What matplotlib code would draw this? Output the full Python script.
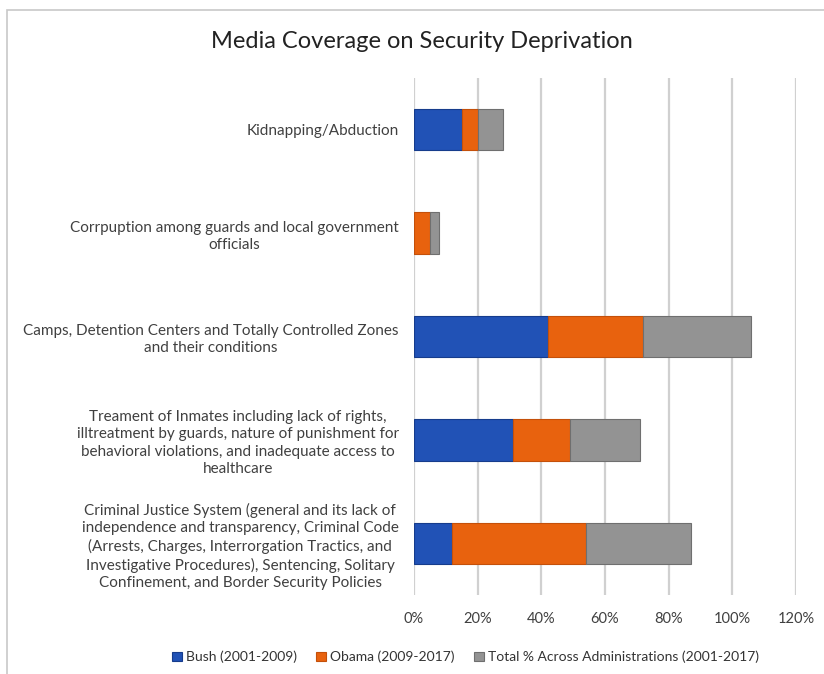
import matplotlib.pyplot as plt
import numpy as np
from matplotlib.patches import Rectangle
from matplotlib.ticker import PercentFormatter

plt.rcParams['font.family'] = ['Lato', 'DejaVu Sans']

categories = [
    "Kidnapping/Abduction",
    "Corrpuption among guards and local government\nofficials",
    "Camps, Detention Centers and Totally Controlled Zones\nand their conditions",
    "Treament of Inmates including lack of rights,\nilltreatment by guards, nature of punishment for\n"
    "behavioral violations, and inadequate access to\nhealthcare",
    "Criminal Justice System (general and its lack of\nindependence and transparency, Criminal Code\n"
    "(Arrests, Charges, Interrorgation Tractics, and\nInvestigative Procedures), Sentencing, Solitary\n"
    "Confinement, and Border Security Policies",
]
bush = [15, 0, 42, 31, 12]
obama = [5, 5, 30, 18, 42]
total = [8, 3, 34, 22, 33]
series_names = ["Bush (2001-2009)", "Obama (2009-2017)",
                "Total % Across Administrations (2001-2017)"]

colors = ["#2152b6", "#e8620e", "#939393"]
edges = ["#163c8c", "#c4500a", "#6f6f6f"]

fig = plt.figure(figsize=(8.24, 6.74), dpi=100)
ax = fig.add_axes([414 / 824, 1 - 595 / 674, (796 - 414) / 824, (595 - 78) / 674])

y = np.arange(len(categories))
left = np.zeros(len(categories))
for vals, name, c, ec in zip([bush, obama, total], series_names, colors, edges):
    v = np.array(vals, dtype=float)
    ax.barh(y, v, left=left, height=0.4, color=c, edgecolor=ec,
            linewidth=0.8, label=name, zorder=3)
    left += v

ax.set_xlim(0, 120)
ax.set_ylim(len(categories) - 0.5, -0.5)
ax.set_xticks(np.arange(0, 121, 20))
ax.xaxis.set_major_formatter(PercentFormatter(decimals=0))
ax.set_yticks(y)
ax.set_yticklabels(categories, multialignment='center', fontsize=11,
                   linespacing=1.3, color='#333333')
ax.tick_params(axis='both', length=0, colors='#404040')
ax.tick_params(axis='y', pad=11)
ax.tick_params(axis='x', labelsize=10.5, pad=12)
ax.grid(axis='x', color='#d0d0d0', linewidth=1.6, zorder=0)
for s in ax.spines.values():
    s.set_visible(False)

fig.text(0.512, 1 - 42 / 674, "Media Coverage on Security Deprivation",
         ha='center', va='center', fontsize=17, color='#222222')

ax.legend(loc='center', bbox_to_anchor=(0.565, 1 - 657 / 674), bbox_transform=fig.transFigure,
          ncol=3, frameon=False, fontsize=10, handlelength=0.7, handleheight=0.7,
          handletextpad=0.3, columnspacing=1.4, labelcolor='#333333')

# thin chart border like the original screenshot
fig.patches.append(Rectangle((6.5 / 824, -0.05), 1.2, 1 - 9.5 / 674 + 0.05,
                             transform=fig.transFigure, fill=False,
                             edgecolor='#c8c8c8', linewidth=1.2))

fig.savefig("out.png", dpi=100)
